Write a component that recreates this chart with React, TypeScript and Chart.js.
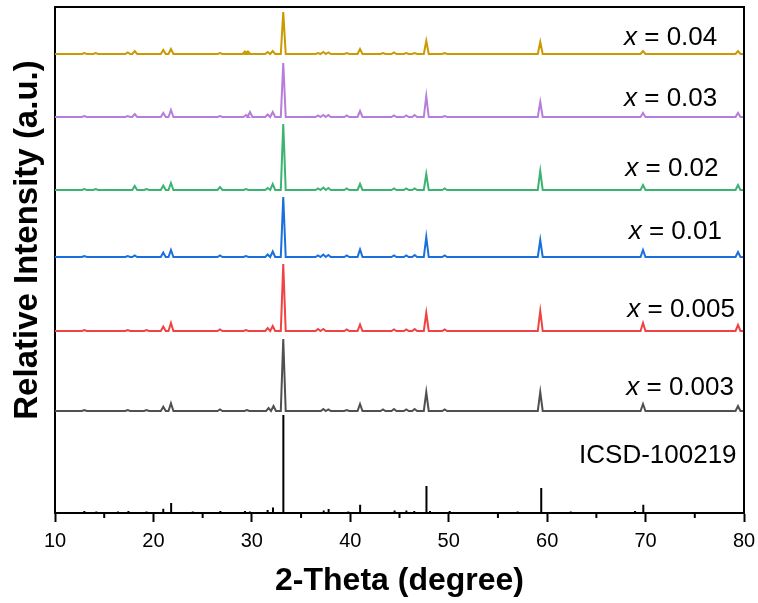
import React, { useEffect, useRef } from "react";
import { Chart, registerables } from "chart.js";

Chart.register(...registerables);

// ---- axis ----
const X_MIN = 10;
const X_MAX = 80;
const X_STEP = 10;
const MINOR_TICKS = [15, 25, 35, 45, 55, 65, 75];
const Y_MIN = 0;
const Y_MAX = 506;

const X_TITLE = "2-Theta (degree)";
const Y_TITLE = "Relative Intensity (a.u.)";

// ---- series ----
const SERIES_NAMES = ["0.04", "0.03", "0.02", "0.01", "0.005", "0.003"];
const SERIES_COLORS = ["#CC9900", "#B57EDC", "#3CB371", "#1A6FDF", "#F04343", "#505050"];
const SERIES_OFFSETS = [459, 396, 323, 256, 182, 102];

// peaks: [2-theta, intensity above baseline]
const PEAKS_004: [number, number][] = [
  [12.98, 1], [14.13, 1], [17.39, 1.5], [18.1, 3], [21.0, 4], [21.78, 5], [26.76, 1],
  [29.3, 2.5], [29.6, 2.5], [31.61, 2], [32.12, 3], [33.19, 42], [36.72, 1], [37.26, 2],
  [37.77, 1.5], [39.64, 1], [40.99, 5], [43.32, 1], [44.44, 1.5], [45.69, 1], [46.54, 1],
  [47.72, 13], [49.59, 1], [59.3, 12], [69.74, 3], [79.39, 3],
];
const PEAKS_003: [number, number][] = [
  [12.98, 1], [17.39, 1], [18.1, 3], [21.0, 4], [21.78, 7], [26.76, 1], [29.4, 2],
  [29.81, 5], [31.61, 2.5], [32.12, 5], [33.19, 54], [36.72, 1.5], [37.26, 2], [37.77, 2],
  [39.64, 1.5], [40.99, 6], [44.44, 1.5], [45.69, 1.5], [46.54, 2], [47.72, 21], [49.59, 1],
  [59.3, 15], [69.74, 4], [79.39, 4],
];
const PEAKS_002: [number, number][] = [
  [12.98, 1], [14.13, 1], [18.1, 4], [19.3, 1], [21.0, 4.5], [21.78, 7], [26.76, 3],
  [29.4, 1], [31.61, 2], [32.12, 6], [33.19, 66], [36.72, 1.5], [37.26, 2.5], [37.77, 2],
  [39.64, 1.5], [40.99, 6], [44.44, 1.5], [45.69, 1.5], [46.54, 1.5], [47.72, 16], [49.59, 1.5],
  [59.3, 19], [69.74, 5], [79.39, 5],
];
const PEAKS_001: [number, number][] = [
  [12.98, 1], [17.39, 1], [18.1, 1.5], [21.0, 4.5], [21.78, 7], [26.76, 1.5], [29.4, 1],
  [31.61, 2.5], [32.12, 5.5], [33.19, 60], [36.72, 1.5], [37.26, 2.5], [37.77, 2], [39.64, 1.5],
  [40.99, 7.5], [44.44, 1.5], [45.69, 1.5], [46.54, 2], [47.72, 20], [49.59, 1.5], [59.3, 17],
  [69.74, 7], [79.39, 5],
];
const PEAKS_0005: [number, number][] = [
  [12.98, 1], [17.39, 1], [19.3, 1], [21.0, 4.5], [21.78, 8], [26.76, 1.5], [29.4, 1],
  [31.61, 3], [32.12, 5], [33.19, 67], [36.72, 2], [37.26, 2], [39.64, 1.5], [40.99, 6.5],
  [44.44, 1.5], [45.69, 1.5], [46.54, 2], [47.72, 18], [49.59, 1.5], [59.3, 20], [69.74, 8],
  [79.39, 6],
];
const PEAKS_0003: [number, number][] = [
  [12.98, 1], [17.39, 1], [19.3, 1], [21.0, 4.3], [21.78, 7.7], [26.76, 1.5], [29.5, 1],
  [31.7, 3], [32.2, 5], [33.19, 72], [37.26, 2], [37.77, 1.5], [39.64, 1], [40.99, 7],
  [43.32, 1.5], [44.44, 2], [45.69, 1.5], [46.54, 2], [47.72, 19], [49.59, 1.5], [59.3, 19],
  [69.74, 7], [79.39, 5],
];
const SERIES_PEAKS = [PEAKS_004, PEAKS_003, PEAKS_002, PEAKS_001, PEAKS_0005, PEAKS_0003];
const PEAK_HALF_WIDTH = 0.25;

// ICSD reference sticks
const ICSD_NAME = "ICSD-100219";
const ICSD_STICKS: [number, number][] = [
  [11.6, 0.8], [12.98, 2], [14.2, 1.5], [16.4, 1.5], [17.46, 2], [18.5, 1], [19.3, 1.5],
  [20.3, 1], [21.0, 4.3], [21.8, 10], [23.2, 0.8], [24.0, 1.5], [24.75, 1], [25.4, 1],
  [26.1, 1], [26.8, 2], [27.5, 0.8], [28.5, 1], [29.3, 2], [29.8, 1.5], [30.85, 1],
  [31.6, 3], [32.15, 5.5], [33.2, 98], [33.6, 1], [34.2, 1], [34.9, 1], [35.5, 1],
  [36.2, 1], [36.7, 1], [37.3, 2.5], [37.8, 4], [38.5, 1], [39.1, 1], [39.8, 1.5],
  [41.0, 8.3], [41.6, 1], [42.2, 1], [42.8, 1], [43.5, 1], [44.5, 2.5], [45.7, 2.5],
  [46.5, 2], [47.74, 27], [48.1, 2], [48.7, 1], [49.3, 1], [50.1, 2], [51.2, 0.8],
  [52.3, 0.8], [53.5, 0.8], [54.6, 0.8], [55.4, 0.8], [56.2, 0.8], [57.0, 1.5], [58.3, 0.8],
  [59.4, 25], [60.4, 1], [60.9, 1], [62.4, 1.5], [63.2, 0.8], [63.8, 0.8], [64.86, 1],
  [66.1, 0.8], [66.8, 0.8], [67.5, 0.8], [68.2, 0.8], [68.93, 2], [69.77, 8.3], [70.8, 0.8],
  [71.5, 0.8], [72.3, 0.8], [73.1, 0.8],
];

// label anchors (data coords: 2-theta, intensity)
const LABEL_X = [67.81, 67.81, 67.94, 68.29, 68.14, 68.04];
const LABEL_Y = [467.7, 407, 337, 273.7, 195.7, 118];
const ICSD_LABEL_X = 63.24;
const ICSD_LABEL_Y = 49.7;

const FONT = "'Liberation Sans', Arial, Helvetica, sans-serif";

function buildCurve(peaks: [number, number][], offset: number) {
  const pts: { x: number; y: number }[] = [{ x: X_MIN, y: offset }];
  peaks.forEach(([p, h]) => {
    pts.push({ x: p - PEAK_HALF_WIDTH, y: offset });
    pts.push({ x: p, y: offset + h });
    pts.push({ x: p + PEAK_HALF_WIDTH, y: offset });
  });
  pts.push({ x: X_MAX, y: offset });
  return pts;
}

function buildSticks(sticks: [number, number][]) {
  const pts: { x: number; y: number }[] = [{ x: X_MIN, y: 0 }];
  sticks.forEach(([p, h]) => {
    pts.push({ x: p, y: 0 });
    pts.push({ x: p, y: h });
    pts.push({ x: p, y: 0 });
  });
  pts.push({ x: X_MAX, y: 0 });
  return pts;
}

const decorPlugin = {
  id: "decor",
  afterDraw(chart: any) {
    const { ctx, chartArea } = chart;
    const xs = chart.scales.x;
    const ys = chart.scales.y;
    ctx.save();
    // frame top/right
    ctx.strokeStyle = "#000";
    ctx.lineWidth = 2;
    ctx.beginPath();
    ctx.moveTo(chartArea.left, chartArea.top);
    ctx.lineTo(chartArea.right, chartArea.top);
    ctx.lineTo(chartArea.right, chartArea.bottom);
    ctx.stroke();
    // minor ticks
    MINOR_TICKS.forEach((v) => {
      const px = xs.getPixelForValue(v);
      ctx.beginPath();
      ctx.moveTo(px, chartArea.bottom);
      ctx.lineTo(px, chartArea.bottom + 5);
      ctx.stroke();
    });
    // series labels
    ctx.fillStyle = "#000";
    ctx.textBaseline = "alphabetic";
    ctx.textAlign = "left";
    SERIES_NAMES.forEach((name, i) => {
      let px = xs.getPixelForValue(LABEL_X[i]);
      const py = ys.getPixelForValue(LABEL_Y[i]);
      ctx.font = `italic 26px ${FONT}`;
      ctx.fillText("x", px, py);
      px += ctx.measureText("x").width;
      ctx.font = `26px ${FONT}`;
      ctx.fillText(" = " + name, px, py);
    });
    ctx.font = `26px ${FONT}`;
    ctx.fillText(ICSD_NAME, xs.getPixelForValue(ICSD_LABEL_X), ys.getPixelForValue(ICSD_LABEL_Y));
    // axis titles
    ctx.font = `bold 32px ${FONT}`;
    ctx.textAlign = "center";
    ctx.fillText(X_TITLE, (chartArea.left + chartArea.right) / 2, 590);
    ctx.font = `bold 33px ${FONT}`;
    ctx.translate(37.3, 240);
    ctx.rotate(-Math.PI / 2);
    ctx.fillText(Y_TITLE, 0, 0);
    ctx.restore();
  },
};

export default function App() {
  const ref = useRef<HTMLCanvasElement | null>(null);
  useEffect(() => {
    if (!ref.current) return;
    const datasets: any[] = SERIES_NAMES.map((name, i) => ({
      label: "x = " + name,
      data: buildCurve(SERIES_PEAKS[i], SERIES_OFFSETS[i]),
      borderColor: SERIES_COLORS[i],
      borderWidth: 2,
      pointRadius: 0,
      tension: 0,
      fill: false,
    }));
    datasets.push({
      label: ICSD_NAME,
      data: buildSticks(ICSD_STICKS),
      borderColor: "#000",
      borderWidth: 2,
      pointRadius: 0,
      tension: 0,
      fill: false,
    });
    const chart = new Chart(ref.current, {
      type: "line",
      data: { datasets },
      options: {
        animation: false,
        responsive: false,
        devicePixelRatio: 1,
        layout: { padding: { top: 7, right: 14, left: 0, bottom: 0 } },
        plugins: { legend: { display: false }, tooltip: { enabled: false } },
        scales: {
          x: {
            type: "linear",
            min: X_MIN,
            max: X_MAX,
            ticks: {
              stepSize: X_STEP,
              color: "#000",
              padding: 7,
              font: { family: FONT, size: 20 },
            },
            grid: {
              drawOnChartArea: false,
              tickLength: 9,
              tickWidth: 2,
              tickColor: "#000",
            },
            border: { color: "#000", width: 2 },
            afterFit: (s: any) => {
              s.height = 90;
              s.paddingLeft = 0;
              s.paddingRight = 0;
            },
          },
          y: {
            type: "linear",
            min: Y_MIN,
            max: Y_MAX,
            ticks: { display: false },
            grid: { display: false },
            border: { color: "#000", width: 2 },
            afterFit: (s: any) => {
              s.width = 55;
              s.paddingTop = 0;
              s.paddingBottom = 0;
            },
          },
        },
      },
      plugins: [decorPlugin],
    });
    return () => chart.destroy();
  }, []);
  return (
    <div style={{ position: "fixed", left: 0, top: 0, width: 758, height: 603, background: "#fff" }}>
      <canvas ref={ref} width={758} height={603} style={{ width: 758, height: 603, display: "block" }} />
    </div>
  );
}
